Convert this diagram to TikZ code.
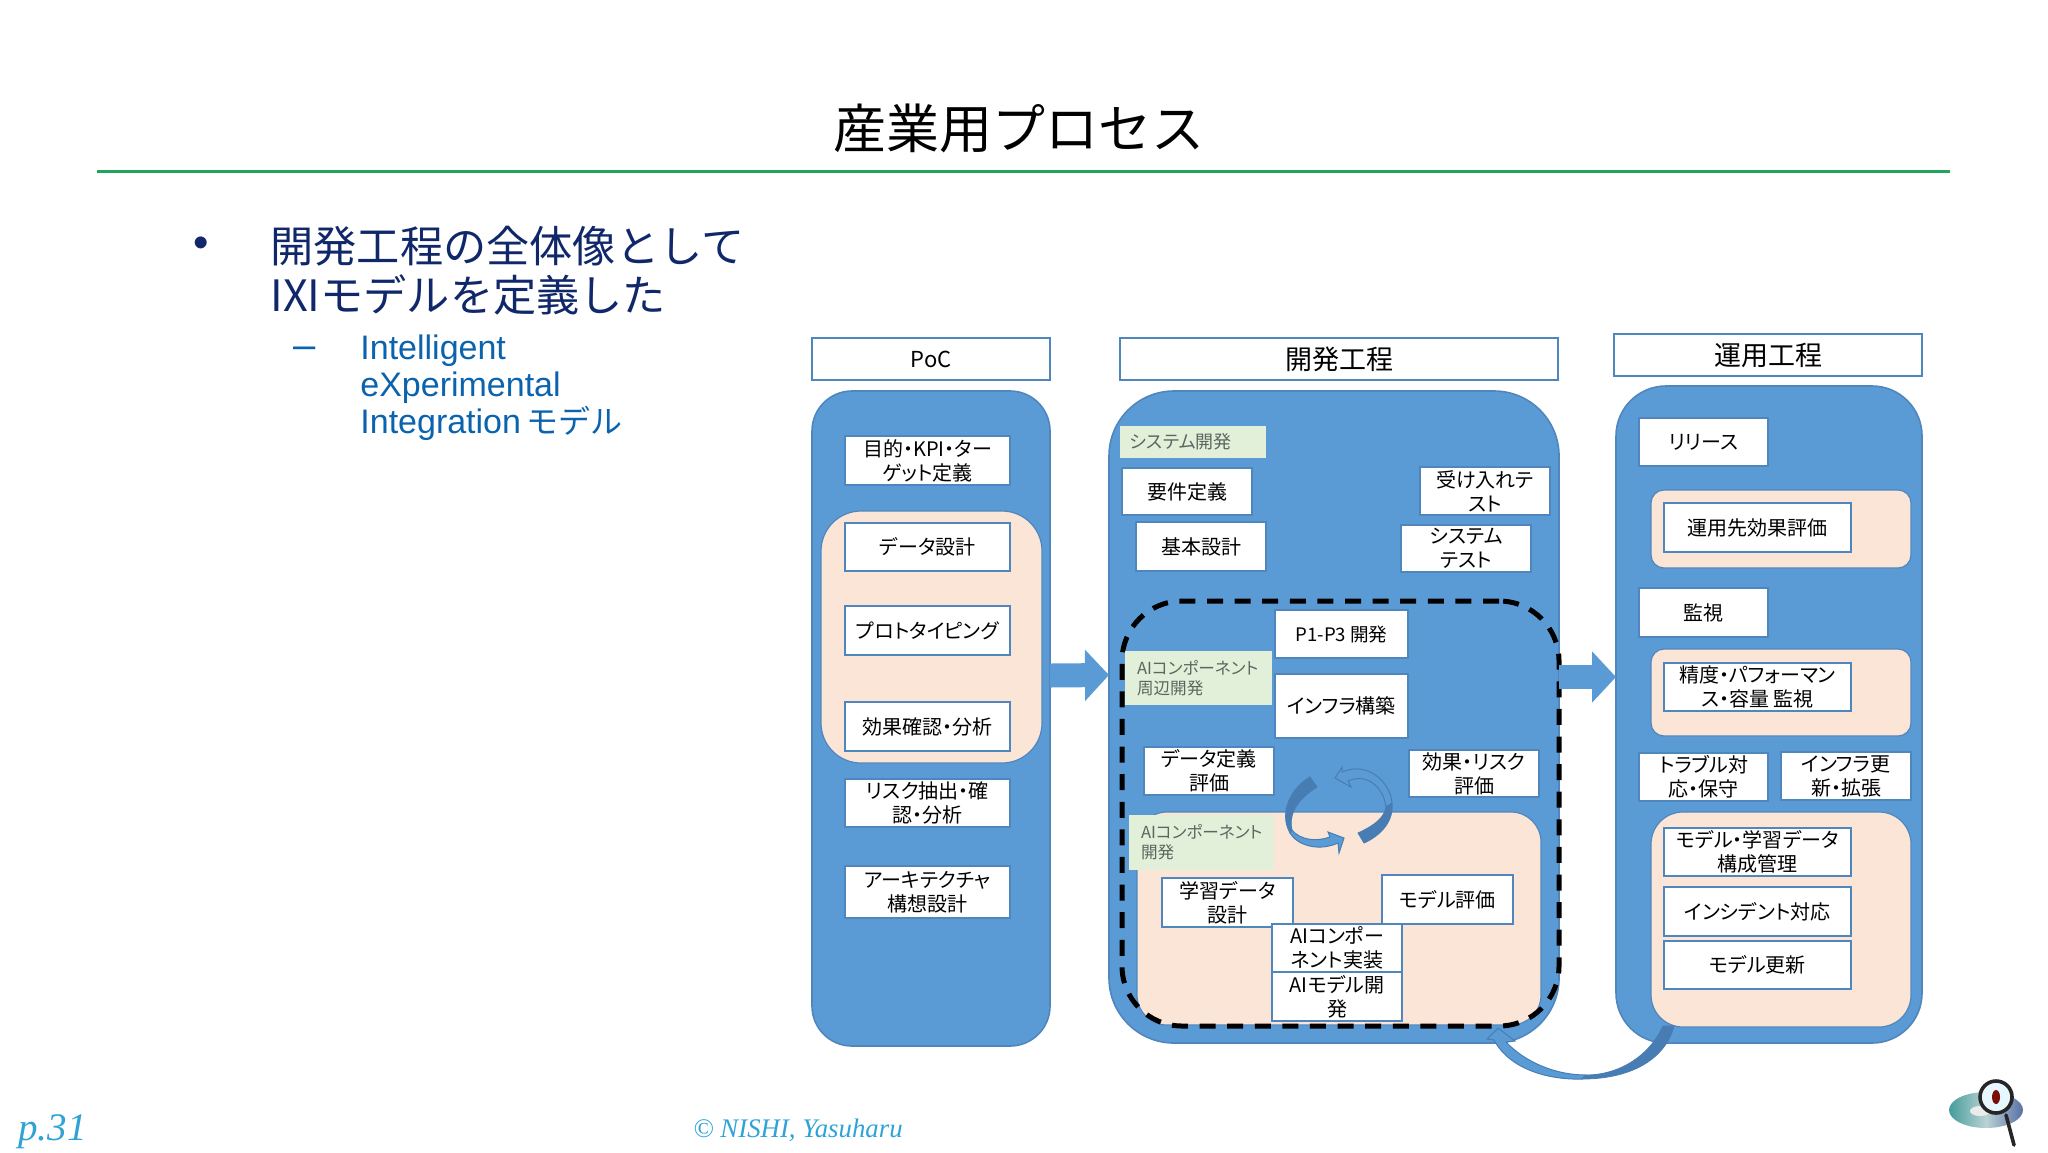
\documentclass[tikz,border=0pt]{standalone}
\usepackage{fontspec}
\setmainfont{Noto Sans CJK JP}[RawFeature=+palt]
\newfontfamily\titlefont{Noto Sans CJK JP}
\newfontfamily\latinfont{Liberation Sans}
\newfontfamily\footfont{Liberation Serif}
\usetikzlibrary{positioning,arrows.meta}
\definecolor{lanefill}{HTML}{5B9BD5}
\definecolor{laneedge}{HTML}{4F86BE}
\definecolor{zonefill}{HTML}{FBE5D6}
\definecolor{tagfill}{HTML}{E2F0D9}
\definecolor{tagtext}{HTML}{5A6660}
\definecolor{ribbon}{HTML}{477DB3}
\definecolor{navy}{HTML}{10286A}
\definecolor{subblue}{HTML}{0B63AE}
\definecolor{rulegreen}{HTML}{1FA65A}
\definecolor{footblue}{HTML}{2FA3D6}
\newcommand{\fsize}[2]{\fontsize{#1}{#2}\selectfont}

\begin{document}
\begin{tikzpicture}[
    x=0.5pt, y=-0.5pt,
    sized/.style 2 args={minimum width=#1*0.5pt, minimum height=#2*0.5pt, inner sep=0pt, outer sep=0pt},
    task/.style 2 args={sized={#1}{#2}, draw=laneedge, fill=white, line width=0.8pt, align=center, font=\fsize{10}{12}},
    head/.style 2 args={sized={#1}{#2}, draw=laneedge, fill=white, line width=1pt, font=\fsize{13.5}{15}},
    lane/.style n args={3}{sized={#1}{#2}, rounded corners=#3*0.5pt, draw=laneedge, fill=lanefill, line width=0.8pt},
    zone/.style n args={3}{sized={#1}{#2}, rounded corners=#3*0.5pt, draw=laneedge, fill=zonefill, line width=0.6pt},
    tag/.style n args={3}{sized={#1}{#2}, fill=tagfill, text=tagtext, align=left, font=\fsize{8.3}{10}, text width=(#1-#3)*0.5pt},
    flow/.style={draw=lanefill, line width=12pt, -{Triangle[length=12pt,width=25pt]}},
    thin ribbon/.style={fill=lanefill, draw=ribbon, line width=0.5pt},
    thick ribbon/.style={fill=ribbon, draw=ribbon, line width=0.4pt}
]
\useasboundingbox (0,0) rectangle (2048,1152);

\node[font=\titlefont\fsize{26.5}{30}] (title) at (1019,128) {産業用プロセス};
\coordinate (ruleL) at (97,171);
\coordinate (ruleR) at (1950,171);
\draw[rulegreen, line width=1.5pt] (ruleL) -- (ruleR);

\node[text=navy, font=\latinfont\fsize{22}{24}] (dot) at (201,247) {•};
\node[anchor=west, inner sep=0pt, text=navy, align=left, font=\titlefont\fsize{21.6}{24.5}] (lead) at (270,270.5)
    {開発工程の全体像として\\\mbox{}IXIモデルを定義した};
\node[text=subblue, font=\latinfont\fsize{20}{22}] (dash) at (305,353) {–};
\node[anchor=west, inner sep=0pt, text=subblue, align=left, font=\latinfont\fsize{17}{18.5}] (sub) at (360,388)
    {Intelligent\\eXperimental\\Integration\hspace{0.15em}{\titlefont\fsize{16}{18.5}モデル}};

% PoC
\node[head={238}{42}, font=\fsize{11}{14}] (pochead) at (931,359) {PoC};
\node[lane={238}{655}{40}] (pocbody) at (931,718.5) {};
\node[zone={221}{252}{40}] (poczone) at (931.5,637) {};
\node[task={165}{49}] (goal) at (927.5,460.5) {目的・KPI・ター\\ゲット定義};
\node[task={165}{48}] (datadesign) at (927.5,547) {データ設計};
\node[task={165}{49}] (proto) at (927.5,630.5) {プロトタイピング};
\node[task={165}{49}] (effect) at (927.5,726.5) {効果確認・分析};
\node[task={165}{48}] (risk) at (927.5,803) {リスク抽出・確\\認・分析};
\node[task={165}{52}] (arch) at (927.5,892) {アーキテクチャ\\構想設計};

% development
\node[head={438}{42}] (devhead) at (1339,359) {開発工程};
\node[lane={450}{652}{65}] (devbody) at (1334,717) {};
\node[zone={404}{213}{30}] (devzone) at (1339,918.5) {};
\node[sized={437}{425}, rounded corners=30pt, draw=black, line width=2.5pt, dash pattern=on 8pt off 5.8pt] (loop) at (1340.5,813.5) {};
\node[tag={146}{32}{20}, font=\fsize{9}{10}] (systag) at (1193,442) {システム開発};
\node[task={130}{47}] (req) at (1187,491.5) {要件定義};
\node[task={130}{49}] (basic) at (1201,546.5) {基本設計};
\node[task={130}{48}] (accept) at (1485,491) {受け入れテ\\スト};
\node[task={130}{47}] (systest) at (1466,548.5) {システム\\テスト};
\node[task={133}{48}, font=\fsize{9.3}{12}] (pone) at (1341.5,634) {P1-P3 開発};
\node[task={133}{64}] (infra) at (1341.5,706) {インフラ構築};
\node[tag={147}{54}{24}] (periph) at (1198.5,678) {AIコンポーネント\\周辺開発};
\node[task={130}{48}] (datadef) at (1209,771) {データ定義\\評価};
\node[task={130}{47}] (riskeval) at (1474,773.5) {効果・リスク\\評価};
\node[tag={145}{55}{24}] (aitag) at (1201.5,842.5) {AIコンポーネント\\開発};
\node[task={131}{49}] (train) at (1227.5,902.5) {学習データ\\設計};
\node[task={131}{49}] (modeleval) at (1447.5,899.5) {モデル評価};
\node[task={130}{48}] (impl) at (1337,948) {AIコンポー\\ネント実装};
\node[task={130}{49}] (aimodel) at (1337,996.5) {AIモデル開\\発};

% operation
\node[head={308}{42}] (opshead) at (1768,355) {運用工程};
\node[lane={306}{657}{50}] (opsbody) at (1769,714.5) {};
\node[zone={260}{78}{13}] (opszonea) at (1781,529) {};
\node[zone={260}{87}{13}] (opszoneb) at (1781,692.5) {};
\node[zone={260}{215}{32}] (opszonec) at (1781,919.5) {};
\node[task={129}{48}] (release) at (1703.5,442) {リリース};
\node[task={187}{49}] (target) at (1757.5,527.5) {運用先効果評価};
\node[task={129}{49}] (monitor) at (1703.5,612.5) {監視};
\node[task={187}{48}] (accuracy) at (1757.5,687) {精度・パフォーマン\\ス・容量 監視};
\node[task={129}{48}] (trouble) at (1703.5,777) {トラブル対\\応・保守};
\node[task={130}{48}] (infraup) at (1846,776) {インフラ更\\新・拡張};
\node[task={187}{48}] (config) at (1757.5,852) {モデル・学習データ\\構成管理};
\node[task={187}{49}] (incident) at (1757.5,911.5) {インシデント対応};
\node[task={187}{48}] (update) at (1757.5,965) {モデル更新};

\draw[flow] ([yshift=21.5pt]pocbody.east) -- ([yshift=21pt]devbody.west);
\draw[flow] ([yshift=20pt]devbody.east) -- ([yshift=18.75pt]opsbody.west);

% cycle in the middle
\filldraw[thick ribbon] (1310,777) .. controls (1292,787) and (1278,812) .. (1290,833) -- (1292,830)
    .. controls (1289,818) and (1293,802) .. (1317,787) -- cycle;
\filldraw[thin ribbon] (1290,833) .. controls (1297,845) and (1318,852) .. (1338,843) -- (1339,853) -- (1344,838) -- (1328,832) -- (1330,837)
    .. controls (1316,842) and (1300,840) .. (1292,830) -- cycle;
\filldraw[thick ribbon] (1364,843) .. controls (1382,835) and (1394,820) .. (1392,803) -- (1386,807)
    .. controls (1384,818) and (1375,825) .. (1358,833) -- cycle;
\filldraw[thin ribbon] (1392,803) .. controls (1391,785) and (1370,760) .. (1342,772) -- (1342,767) -- (1335,778) -- (1351,787) -- (1348,781)
    .. controls (1365,773) and (1383,785) .. (1386,807) -- cycle;

% return from operation to development
\filldraw[thin ribbon] (1494,1040) .. controls (1510,1070) and (1550,1080) .. (1582,1079) -- (1586,1075)
    .. controls (1555,1075) and (1525,1062) .. (1506,1042) -- (1515,1041) -- (1498,1028) -- (1487,1039) -- cycle;
\filldraw[thick ribbon] (1582,1079) .. controls (1630,1079) and (1665,1060) .. (1674,1026) -- (1663,1026)
    .. controls (1650,1055) and (1620,1075) .. (1586,1075) -- cycle;

\node[anchor=west, inner sep=0pt, text=footblue, font=\footfont\itshape\fsize{19.5}{22}] (page) at (18,1132) {p.31};
\node[anchor=west, inner sep=0pt, text=footblue, font=\footfont\itshape\fsize{13.4}{15}] (copy) at (693,1130) {© NISHI, Yasuharu};

% disc and magnifier
\shade[left color=black!25!cyan!45!gray, right color=cyan!30!blue!30!gray, middle color=cyan!15!white!65!gray] (1986,1110) ellipse [x radius=37, y radius=18];
\fill[white!92!black] (1980,1111) ellipse [x radius=10, y radius=5];
\draw[black!85, line width=1.8pt, line cap=round] (2006,1115) -- (2014,1145);
\draw[black!85, fill=white!90!cyan, line width=1.8pt] (1996,1097) circle [radius=16];
\fill[red!45!black!90!brown] (1996,1097) ellipse [x radius=4, y radius=7];
\end{tikzpicture}
\end{document}
